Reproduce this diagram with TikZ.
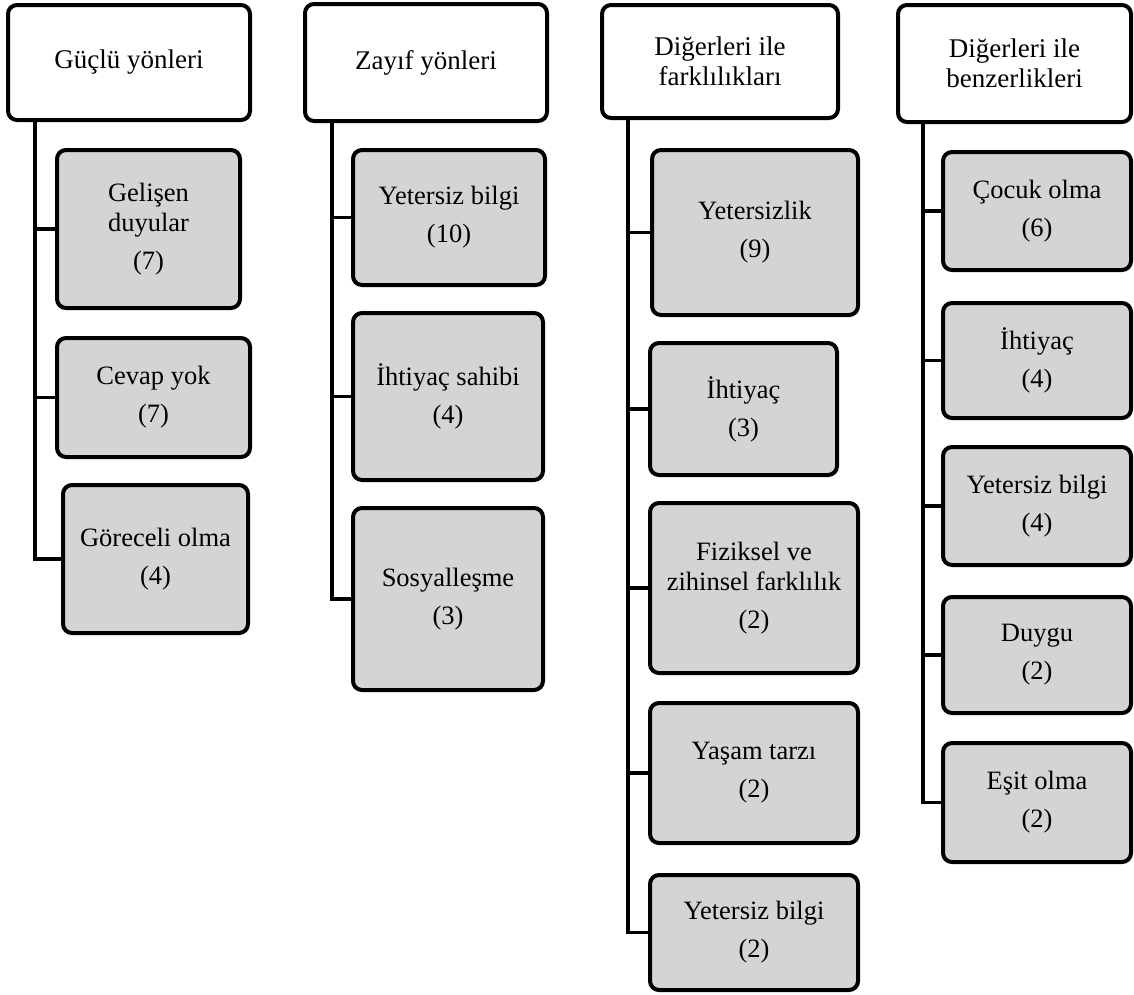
\documentclass[tikz,border=0pt]{standalone}
\usepackage{fontspec}
\setmainfont{Liberation Serif}
\definecolor{leafgray}{RGB}{212,212,212}
\newcommand{\cntline}[1]{\\[8.5pt]#1}
\tikzset{
  hdr/.style={draw=black, line width=4pt, rounded corners=9pt, fill=white,
    inner sep=0pt, align=center, font=\fontsize{27}{30}\selectfont},
  leaf/.style={draw=black, line width=4pt, rounded corners=9pt, fill=leafgray,
    inner sep=0pt, align=center, font=\fontsize{26.5}{29.5}\selectfont},
  link/.style={draw=black, line width=3.5pt}
}
\begin{document}
\begin{tikzpicture}[x=1pt,y=-1pt]
\useasboundingbox (0,0) rectangle (1134,994);
% column 1
\node[hdr, minimum width=242, minimum height=115] (h1) at (129,62.5) {Güçlü yönleri};
\node[leaf, minimum width=183, minimum height=158] (c11) at (148.5,229) {Gelişen\\duyular\cntline{(7)}};
\node[leaf, minimum width=193, minimum height=119] (c12) at (153.5,397.5) {Cevap yok\cntline{(7)}};
\node[leaf, minimum width=185, minimum height=148] (c13) at (155.5,559) {Göreceli olma\cntline{(4)}};
\coordinate (t1) at (35,120);
\draw[link] (t1) |- (c13.west);
\draw[link] (t1 |- c11.west) -- (c11.west);
\draw[link] (t1 |- c12.west) -- (c12.west);
% column 2
\node[hdr, minimum width=242, minimum height=117] (h2) at (426,62.5) {Zayıf yönleri};
\node[leaf, minimum width=192, minimum height=135] (c21) at (449,217.5) {Yetersiz bilgi\cntline{(10)}};
\node[leaf, minimum width=190, minimum height=167] (c22) at (448,396.5) {İhtiyaç sahibi\cntline{(4)}};
\node[leaf, minimum width=190, minimum height=182] (c23) at (448,599) {Sosyalleşme\cntline{(3)}};
\coordinate (t2) at (332,121);
\draw[link] (t2) |- (c23.west);
\draw[link] (t2 |- c21.west) -- (c21.west);
\draw[link] (t2 |- c22.west) -- (c22.west);
% column 3
\node[hdr, minimum width=236, minimum height=113] (h3) at (720,61.5) {Diğerleri ile\\farklılıkları};
\node[leaf, minimum width=206, minimum height=165] (c31) at (755,232.5) {Yetersizlik\cntline{(9)}};
\node[leaf, minimum width=187, minimum height=132] (c32) at (743.5,409) {İhtiyaç\cntline{(3)}};
\node[leaf, minimum width=208, minimum height=170] (c33) at (754,588) {Fiziksel ve\\zihinsel farklılık\cntline{(2)}};
\node[leaf, minimum width=208, minimum height=140] (c34) at (754,773) {Yaşam tarzı\cntline{(2)}};
\node[leaf, minimum width=208, minimum height=115] (c35) at (754,932.5) {Yetersiz bilgi\cntline{(2)}};
\coordinate (t3) at (628,118);
\draw[link] (t3) |- (c35.west);
\draw[link] (t3 |- c31.west) -- (c31.west);
\draw[link] (t3 |- c32.west) -- (c32.west);
\draw[link] (t3 |- c33.west) -- (c33.west);
\draw[link] (t3 |- c34.west) -- (c34.west);
% column 4
\node[hdr, minimum width=233, minimum height=117] (h4) at (1014.5,63.5) {Diğerleri ile\\benzerlikleri};
\node[leaf, minimum width=188, minimum height=118] (c41) at (1037,211) {Çocuk olma\cntline{(6)}};
\node[leaf, minimum width=188, minimum height=115] (c42) at (1037,360.5) {İhtiyaç\cntline{(4)}};
\node[leaf, minimum width=188, minimum height=118] (c43) at (1037,506) {Yetersiz bilgi\cntline{(4)}};
\node[leaf, minimum width=188, minimum height=116] (c44) at (1037,655) {Duygu\cntline{(2)}};
\node[leaf, minimum width=188, minimum height=119] (c45) at (1037,802.5) {Eşit olma\cntline{(2)}};
\coordinate (t4) at (923,122);
\draw[link] (t4) |- (c45.west);
\draw[link] (t4 |- c41.west) -- (c41.west);
\draw[link] (t4 |- c42.west) -- (c42.west);
\draw[link] (t4 |- c43.west) -- (c43.west);
\draw[link] (t4 |- c44.west) -- (c44.west);
\end{tikzpicture}
\end{document}
